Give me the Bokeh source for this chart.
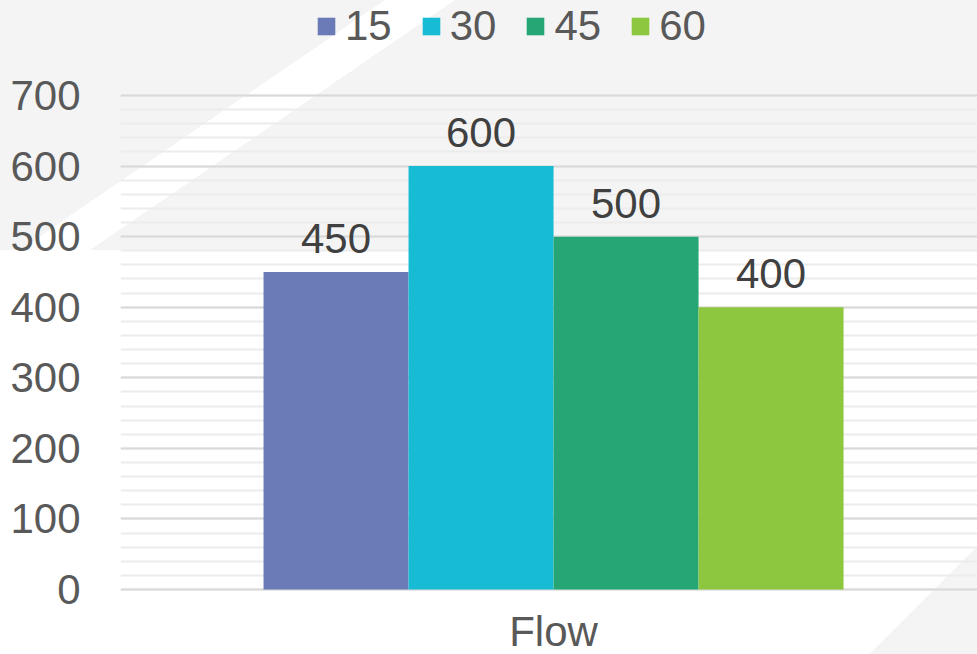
import math
from bokeh.plotting import figure
from bokeh.models import (ColumnDataSource, Range1d, FixedTicker, LabelSet, Legend,
                          LegendItem)
from bokeh.core.properties import value
from bokeh.transform import dodge
from bokeh.embed import file_html
from bokeh.resources import INLINE

# ---- data ----
categories = ["Flow"]
series_names = ["15", "30", "45", "60"]
series_values = [450, 600, 500, 400]
series_colors = ["#6b7bb7", "#17bcd4", "#26a674", "#8dc63f"]
y_ticks = [0, 100, 200, 300, 400, 500, 600, 700]
y_minor = list(range(0, 701, 20))

FONT = "Liberation Sans"
FS = "42px"
W, H = 977, 654
GRAY = "#f4f4f4"


def grad_pos(angle_deg, pt):
    """position (px) of a point along a CSS linear-gradient line over a WxH box"""
    a = math.radians(angle_deg)
    dx, dy = math.sin(a), -math.cos(a)
    L = abs(W * dx) + abs(H * dy)
    return (pt[0] - W / 2) * dx + (pt[1] - H / 2) * dy + L / 2


# decorative background (white diagonal stripe on a gray band + corner triangle)
sa = 180 - math.degrees(math.atan2(250, 365))
t1 = grad_pos(sa, (385, 0))
t2 = grad_pos(sa, (455, 0))
t3 = grad_pos(135, (W, 547))
bg = (f"linear-gradient({sa:.3f}deg, transparent {t1:.1f}px, white {t1:.1f}px, "
      f"white {t2:.1f}px, transparent {t2:.1f}px), "
      f"linear-gradient(135deg, transparent {t3:.1f}px, {GRAY} {t3:.1f}px), "
      f"linear-gradient(to bottom, {GRAY} 250px, white 250px)")

# frame fills the canvas vertically; value 0 sits at 589 px, 700 at 95 px
ppu = (589 - 95) / 700.0
y0 = -(H - 589) / ppu
y1 = 700 + 95 / ppu

p = figure(width=W, height=H, x_range=categories, y_range=Range1d(y0, y1),
           output_backend="svg", toolbar_location=None,
           min_border_left=120, min_border_right=0, min_border_top=0,
           min_border_bottom=0)
p.styles = {"background-image": bg, "background-color": "white"}
p.background_fill_alpha = 0
p.border_fill_alpha = 0
p.outline_line_color = None

bar_w = 0.1692
shift = 0.0053
items = []
for i, (name, val, col) in enumerate(zip(series_names, series_values, series_colors)):
    src = ColumnDataSource(dict(cat=categories, val=[val], lab=[str(val)]))
    off = (i - 1.5) * bar_w + shift
    r = p.vbar(x=dodge("cat", off, range=p.x_range), top="val", bottom=0, width=bar_w,
               source=src, fill_color=col, line_color=None)
    items.append(LegendItem(label=name, renderers=[r]))
    p.add_layout(LabelSet(x=dodge("cat", off, range=p.x_range), y="val", text="lab",
                          source=src, text_align="center", text_baseline="alphabetic",
                          y_offset=19, text_font=value(FONT), text_font_size=value(FS),
                          text_color="#404040"))

# category label under the baseline
cat_src = ColumnDataSource(dict(cat=categories, base=[0] * len(categories)))
p.add_layout(LabelSet(x=dodge("cat", shift, range=p.x_range), y="base", text="cat",
                      source=cat_src, text_align="center", text_baseline="alphabetic",
                      y_offset=-56, text_font=value(FONT), text_font_size=value(FS),
                      text_color="#595959"))

legend = Legend(items=items, orientation="horizontal", location=(195, 604),
                glyph_width=22, glyph_height=22, label_standoff=8, spacing=28,
                padding=0, margin=0, background_fill_alpha=0, border_line_alpha=0,
                label_text_font=FONT, label_text_font_size=FS,
                label_text_color="#595959")
p.add_layout(legend, "center")

# axes
p.xaxis.visible = False
p.yaxis.ticker = FixedTicker(ticks=y_ticks, minor_ticks=y_minor)
p.yaxis.axis_line_color = None
p.yaxis.major_tick_line_color = None
p.yaxis.minor_tick_line_color = None
p.yaxis.major_tick_out = 0
p.yaxis.minor_tick_out = 0
p.yaxis.major_label_standoff = 40
p.yaxis.major_label_text_font = FONT
p.yaxis.major_label_text_font_size = FS
p.yaxis.major_label_text_color = "#595959"

p.xgrid.grid_line_color = None
p.ygrid.grid_line_color = "#d9d9d9"
p.ygrid.grid_line_width = 2
p.ygrid.minor_grid_line_color = "#ececec"
p.ygrid.minor_grid_line_width = 2

open("out.html", "w").write(file_html(p, INLINE))
